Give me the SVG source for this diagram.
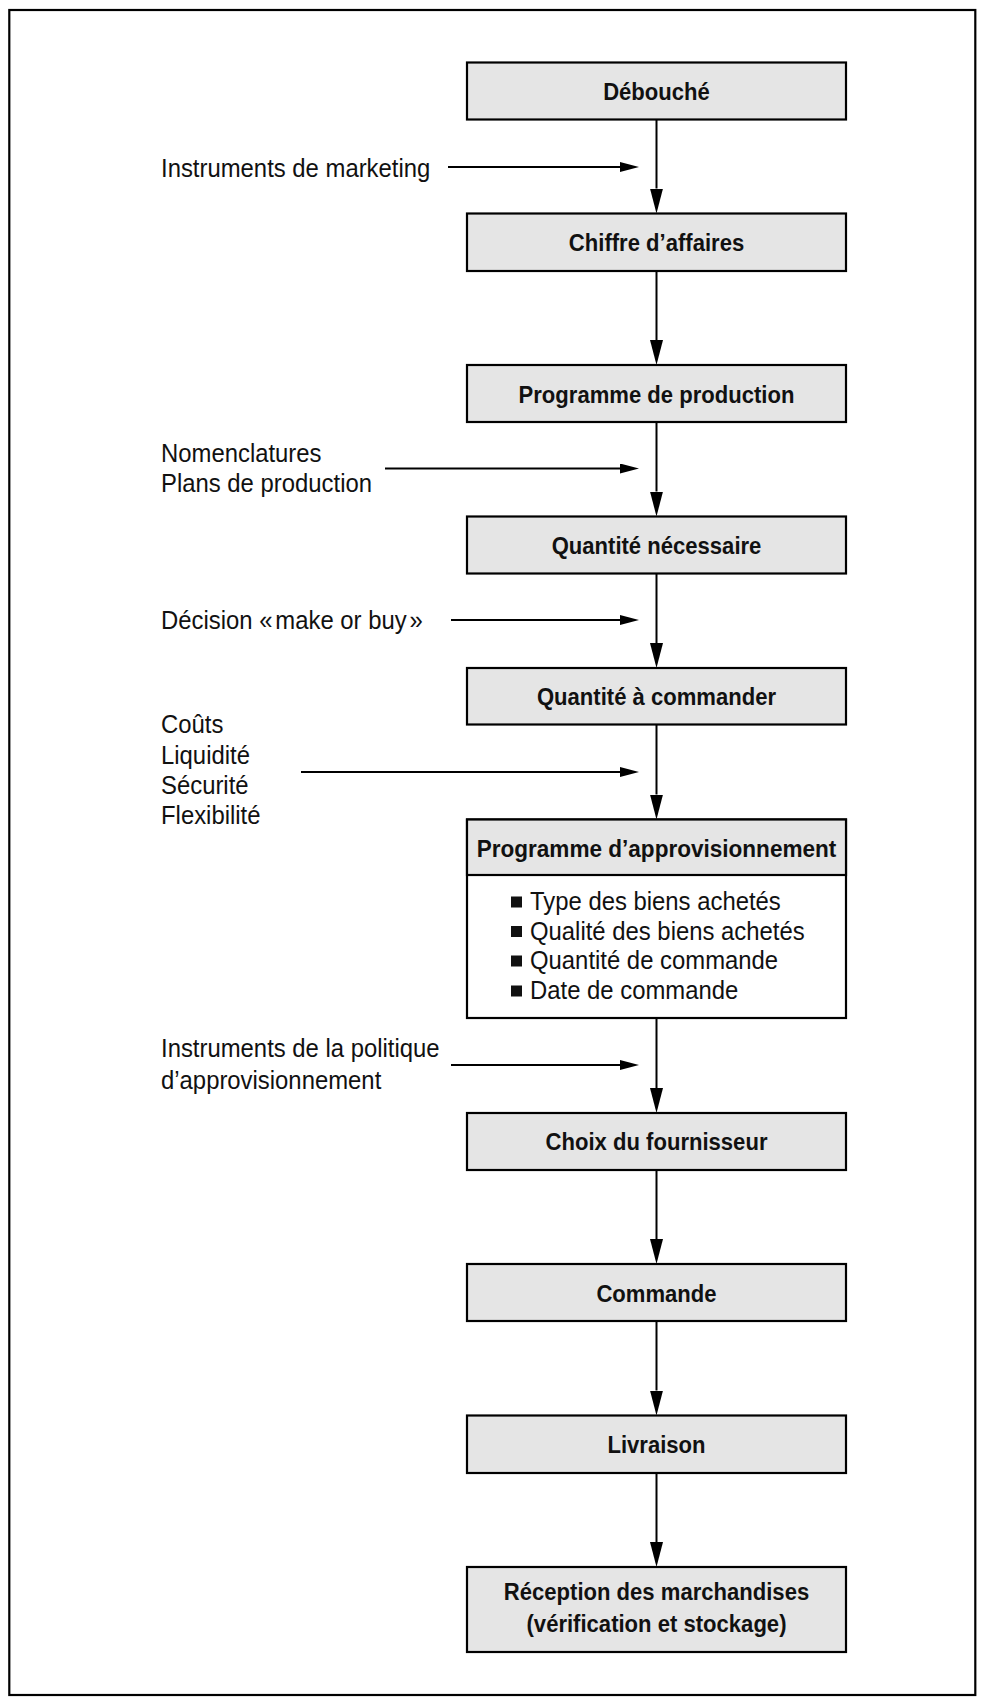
<svg xmlns="http://www.w3.org/2000/svg" width="981" height="1701" viewBox="0 0 981 1701">
  <style>
    .frame { fill: none; stroke: #000; stroke-width: 2.2; }
    .box { fill: #e5e5e5; stroke: #000; stroke-width: 2.2; }
    .panel { fill: #fff; stroke: #000; stroke-width: 2.2; }
    .title { font-family: "Liberation Sans", Arial, sans-serif; font-weight: bold; font-size: 24px; fill: #111; text-anchor: middle; }
    .label { font-family: "Liberation Sans", Arial, sans-serif; font-size: 25px; fill: #111; }
    .wire { stroke: #000; stroke-width: 2; fill: none; }
    .bullet { fill: #111; }
  </style>
  <defs>
    <marker id="headDown" markerUnits="userSpaceOnUse" markerWidth="25" markerHeight="13" refX="0" refY="6.5" orient="auto">
      <path d="M0,0 L25,6.5 L0,13 z" fill="#000"/>
    </marker>
    <marker id="headSide" markerUnits="userSpaceOnUse" markerWidth="19" markerHeight="10" refX="0" refY="5" orient="auto">
      <path d="M0,0 L19,5 L0,10 z" fill="#000"/>
    </marker>
  </defs>

  <rect width="981" height="1701" fill="#fff"/>
  <rect class="frame" x="9.3" y="10" width="966" height="1685"/>

  <!-- main chain connectors and side inputs -->
  <g id="connectors">
    <line class="wire" x1="656.5" y1="119.5" x2="656.5" y2="188.5" marker-end="url(#headDown)"/>
    <line class="wire" x1="656.5" y1="271" x2="656.5" y2="340" marker-end="url(#headDown)"/>
    <line class="wire" x1="656.5" y1="422" x2="656.5" y2="491.5" marker-end="url(#headDown)"/>
    <line class="wire" x1="656.5" y1="573.5" x2="656.5" y2="643" marker-end="url(#headDown)"/>
    <line class="wire" x1="656.5" y1="724.5" x2="656.5" y2="794.5" marker-end="url(#headDown)"/>
    <line class="wire" x1="656.5" y1="1018" x2="656.5" y2="1088" marker-end="url(#headDown)"/>
    <line class="wire" x1="656.5" y1="1170" x2="656.5" y2="1239" marker-end="url(#headDown)"/>
    <line class="wire" x1="656.5" y1="1321" x2="656.5" y2="1390.5" marker-end="url(#headDown)"/>
    <line class="wire" x1="656.5" y1="1473" x2="656.5" y2="1542" marker-end="url(#headDown)"/>

    <line class="wire" x1="448" y1="167" x2="620" y2="167" marker-end="url(#headSide)"/>
    <line class="wire" x1="385" y1="468.5" x2="620" y2="468.5" marker-end="url(#headSide)"/>
    <line class="wire" x1="451" y1="620" x2="620" y2="620" marker-end="url(#headSide)"/>
    <line class="wire" x1="301" y1="772" x2="620" y2="772" marker-end="url(#headSide)"/>
    <line class="wire" x1="451" y1="1065" x2="620" y2="1065" marker-end="url(#headSide)"/>
  </g>

  <!-- side input labels -->
  <g id="in-marketing">
    <text class="label" transform="translate(161,177) scale(0.955,1)">Instruments de marketing</text>
  </g>
  <g id="in-nomenclatures">
    <text class="label" transform="translate(161,462) scale(0.955,1)">Nomenclatures</text>
    <text class="label" transform="translate(161,492) scale(0.955,1)">Plans de production</text>
  </g>
  <g id="in-makeorbuy">
    <text class="label" transform="translate(161,629) scale(0.955,1)">Décision «<tspan dx="3">make or buy</tspan><tspan dx="3">»</tspan></text>
  </g>
  <g id="in-criteria">
    <text class="label" transform="translate(161,733) scale(0.955,1)">Coûts</text>
    <text class="label" transform="translate(161,764) scale(0.955,1)">Liquidité</text>
    <text class="label" transform="translate(161,794) scale(0.955,1)">Sécurité</text>
    <text class="label" transform="translate(161,824) scale(0.955,1)">Flexibilité</text>
  </g>
  <g id="in-policy">
    <text class="label" transform="translate(161,1057) scale(0.955,1)">Instruments de la politique</text>
    <text class="label" transform="translate(161,1089) scale(0.955,1)">d’approvisionnement</text>
  </g>

  <!-- process boxes -->
  <g id="debouche">
    <rect class="box" x="467" y="62.5" width="379" height="57"/>
    <text class="title" transform="translate(656.5,100) scale(0.92,1)">Débouché</text>
  </g>
  <g id="chiffre-affaires">
    <rect class="box" x="467" y="213.5" width="379" height="57.5"/>
    <text class="title" transform="translate(656.5,251) scale(0.92,1)">Chiffre d’affaires</text>
  </g>
  <g id="programme-production">
    <rect class="box" x="467" y="365" width="379" height="57"/>
    <text class="title" transform="translate(656.5,403) scale(0.92,1)">Programme de production</text>
  </g>
  <g id="quantite-necessaire">
    <rect class="box" x="467" y="516.5" width="379" height="57"/>
    <text class="title" transform="translate(656.5,554) scale(0.92,1)">Quantité nécessaire</text>
  </g>
  <g id="quantite-commander">
    <rect class="box" x="467" y="668" width="379" height="56.5"/>
    <text class="title" transform="translate(656.5,705) scale(0.92,1)">Quantité à commander</text>
  </g>
  <g id="programme-approvisionnement">
    <rect class="panel" x="467" y="819.5" width="379" height="198.5"/>
    <rect class="box" x="467" y="819.5" width="379" height="55.5"/>
    <text class="title" transform="translate(656.5,856.5) scale(0.94,1)">Programme d’approvisionnement</text>
    <rect class="bullet" x="511" y="896.5" width="11" height="11"/>
    <rect class="bullet" x="511" y="926" width="11" height="11"/>
    <rect class="bullet" x="511" y="955.5" width="11" height="11"/>
    <rect class="bullet" x="511" y="985.5" width="11" height="11"/>
    <text class="label" transform="translate(530,910) scale(0.955,1)">Type des biens achetés</text>
    <text class="label" transform="translate(530,939.5) scale(0.955,1)">Qualité des biens achetés</text>
    <text class="label" transform="translate(530,969) scale(0.955,1)">Quantité de commande</text>
    <text class="label" transform="translate(530,999) scale(0.955,1)">Date de commande</text>
  </g>
  <g id="choix-fournisseur">
    <rect class="box" x="467" y="1113" width="379" height="57"/>
    <text class="title" transform="translate(656.5,1150) scale(0.92,1)">Choix du fournisseur</text>
  </g>
  <g id="commande">
    <rect class="box" x="467" y="1264" width="379" height="57"/>
    <text class="title" transform="translate(656.5,1302) scale(0.92,1)">Commande</text>
  </g>
  <g id="livraison">
    <rect class="box" x="467" y="1415.5" width="379" height="57.5"/>
    <text class="title" transform="translate(656.5,1453) scale(0.92,1)">Livraison</text>
  </g>
  <g id="reception">
    <rect class="box" x="467" y="1567" width="379" height="85"/>
    <text class="title" transform="translate(656.5,1600) scale(0.92,1)">Réception des marchandises</text>
    <text class="title" transform="translate(656.5,1632) scale(0.92,1)">(vérification et stockage)</text>
  </g>
</svg>
